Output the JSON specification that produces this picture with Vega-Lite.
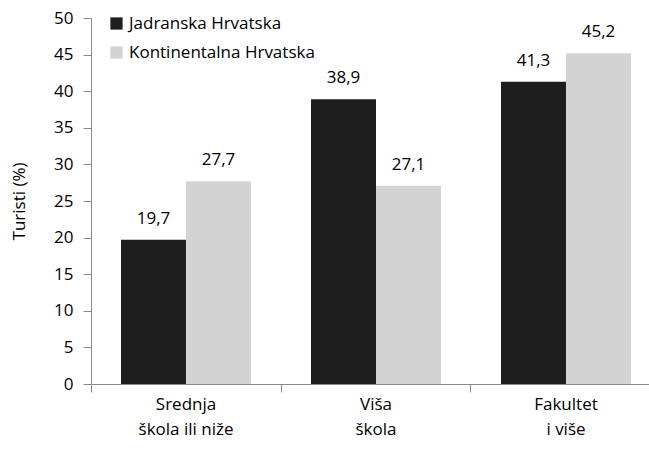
{
  "$schema": "https://vega.github.io/schema/vega-lite/v6.json",
  "width": 558,
  "height": 366,
  "autosize": {"type": "none"},
  "padding": {"left": 91, "top": 18, "right": 0, "bottom": 65},
  "background": "white",
  "config": {
    "font": "Open Sans",
    "view": {"stroke": null},
    "locale": {"number": {"decimal": ",", "thousands": ".", "grouping": [3], "currency": ["", " €"]}}
  },
  "data": {
    "values": [
      {"cat": "Srednja|škola ili niže", "series": "Jadranska Hrvatska", "value": 19.7},
      {"cat": "Srednja|škola ili niže", "series": "Kontinentalna Hrvatska", "value": 27.7},
      {"cat": "Viša|škola", "series": "Jadranska Hrvatska", "value": 38.9},
      {"cat": "Viša|škola", "series": "Kontinentalna Hrvatska", "value": 27.1},
      {"cat": "Fakultet|i više", "series": "Jadranska Hrvatska", "value": 41.3},
      {"cat": "Fakultet|i više", "series": "Kontinentalna Hrvatska", "value": 45.2}
    ]
  },
  "encoding": {
    "x": {
      "field": "cat", "type": "nominal", "sort": null,
      "scale": {"range": [0, 570], "paddingInner": 0.3158, "paddingOuter": 0.158}
    },
    "xOffset": {"field": "series", "type": "nominal", "scale": {"paddingInner": 0, "paddingOuter": 0}},
    "y": {
      "field": "value", "type": "quantitative",
      "scale": {"domain": [0, 50], "nice": false},
      "axis": {
        "title": "Turisti (%)", "values": [0,5,10,15,20,25,30,35,40,45,50],
        "grid": false, "domainColor": "#8a8a8a", "tickColor": "#8a8a8a", "tickSize": 8,
        "labelFontSize": 17, "labelColor": "#000", "labelPadding": 10,
        "titleFontSize": 17, "titleFontWeight": "normal", "titleColor": "#000", "titlePadding": 25
      }
    }
  },
  "layer": [
    {
      "mark": {"type": "bar"},
      "encoding": {
        "x": {
          "field": "cat", "type": "nominal", "sort": null,
          "axis": {
            "title": null, "labelAngle": 0, "ticks": false, "domainColor": "#8a8a8a",
            "labelExpr": "split(datum.label, '|')", "labelFontSize": 17, "labelColor": "#000",
            "labelPadding": 12, "labelLineHeight": 25
          }
        },
        "color": {
          "field": "series", "type": "nominal",
          "scale": {"domain": ["Jadranska Hrvatska", "Kontinentalna Hrvatska"], "range": ["#1e1e1e", "#d3d3d3"]},
          "legend": {
            "title": null, "orient": "none", "legendX": 17, "legendY": -3,
            "symbolType": "square", "symbolSize": 150, "symbolStrokeWidth": 0,
            "labelFontSize": 17, "labelColor": "#000", "rowPadding": 11, "labelOffset": 4,
            "labelLimit": 0
          }
        }
      }
    },
    {
      "mark": {"type": "text", "baseline": "alphabetic", "dy": -16, "fontSize": 17, "color": "#000"},
      "encoding": {
        "x": {
          "field": "cat", "type": "nominal", "sort": null,
          "axis": {
            "title": null, "orient": "bottom", "labels": false, "domain": false, "ticks": true, "tickSize": 8,
            "tickColor": "#8a8a8a", "bandPosition": -0.2308
          }
        },
        "text": {"field": "value", "type": "quantitative", "format": ".1f"}
      }
    }
  ],
  "resolve": {"axis": {"x": "independent"}}
}
